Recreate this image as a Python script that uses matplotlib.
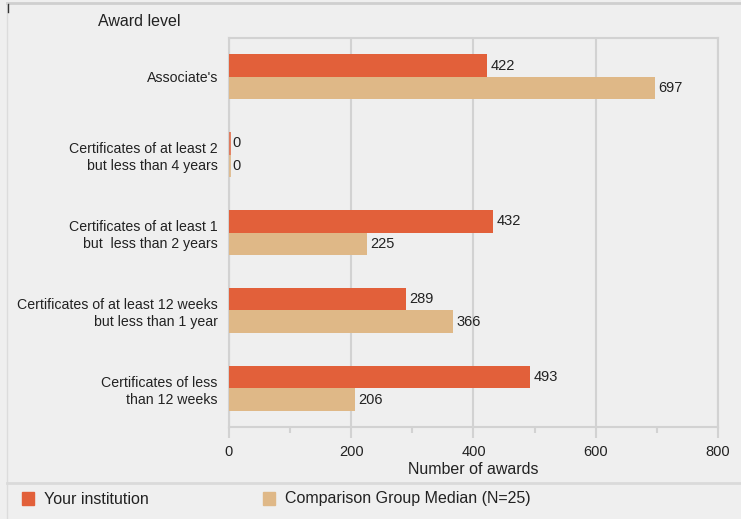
import matplotlib
matplotlib.use("Agg")
import matplotlib.pyplot as plt
from matplotlib.patches import Rectangle
from matplotlib.lines import Line2D
from matplotlib.ticker import MultipleLocator

# award levels, top to bottom
levels = [
    "Associate's",
    "Certificates of at least 2\nbut less than 4 years",
    "Certificates of at least 1\nbut  less than 2 years",
    "Certificates of at least 12 weeks\nbut less than 1 year",
    "Certificates of less\nthan 12 weeks",
]
institution = [422, 0, 432, 289, 493]
comparison = [697, 0, 225, 366, 206]

series_names = ["Your institution", "Comparison Group Median (N=25)"]
x_ticks = [0, 200, 400, 600, 800]

ORANGE = "#e2603a"
TAN = "#dfb887"
BG = "#efefef"
GRID = "#d2d2d2"
TEXT = "#222222"

plt.rcParams["font.family"] = ["Liberation Sans", "DejaVu Sans"]

fig = plt.figure(figsize=(7.41, 5.19), dpi=100, facecolor=BG)
ax = fig.add_axes([0.309, 0.177, 0.66, 0.75])
ax.set_facecolor(BG)

bar_h = 0.29
ypos = list(range(len(levels)))
y_inst = [y - bar_h / 2 for y in ypos]
y_comp = [y + bar_h / 2 for y in ypos]

ax.barh(y_inst, institution, height=bar_h, color=ORANGE, zorder=3)
ax.barh(y_comp, comparison, height=bar_h, color=TAN, zorder=3)

# zero-valued bars still show a thin stroke
for y, v in zip(y_inst, institution):
    if v == 0:
        ax.barh(y, 3.5, height=bar_h, color=ORANGE, alpha=0.75, zorder=3)
for y, v in zip(y_comp, comparison):
    if v == 0:
        ax.barh(y, 3.5, height=bar_h, color=TAN, alpha=0.85, zorder=3)

for y, v in zip(y_inst, institution):
    ax.text(v + 6, y, str(v), va="center", ha="left", fontsize=10.5, color=TEXT)
for y, v in zip(y_comp, comparison):
    ax.text(v + 6, y, str(v), va="center", ha="left", fontsize=10.5, color=TEXT)

ax.set_xlim(0, 800)
ax.set_ylim(len(levels) - 0.5, -0.5)
ax.set_xticks(x_ticks)
ax.xaxis.set_minor_locator(MultipleLocator(100))
ax.set_yticks(ypos)
ax.set_yticklabels(levels, fontsize=10.2, color=TEXT, linespacing=1.3)
ax.tick_params(axis="y", length=0, pad=8)
ax.tick_params(axis="x", which="major", length=8, width=1.5, color=GRID,
               labelsize=10.5, labelcolor=TEXT, pad=5)
ax.tick_params(axis="x", which="minor", length=4, width=1.5, color=GRID)

ax.grid(axis="x", color=GRID, linewidth=1.5, zorder=0)
for side in ["left", "right", "top", "bottom"]:
    ax.spines[side].set_color(GRID)
    ax.spines[side].set_linewidth(1.5)

ax.set_xlabel("Number of awards", fontsize=11.5, color=TEXT, labelpad=2)

fig.text(98 / 741, 1 - 22 / 519, "Award level", fontsize=11.5, color=TEXT,
         ha="left", va="center")

# outer frame and legend separator
fig.add_artist(Line2D([7 / 741, 1], [1 - 3 / 519] * 2, color="#cfcfcf", lw=2))
fig.add_artist(Line2D([7 / 741] * 2, [0, 1 - 3 / 519], color="#dcdcdc", lw=1))
fig.add_artist(Line2D([8 / 741] * 2, [1 - 4 / 519, 1 - 12 / 519], color="#333333", lw=1))
fig.add_artist(Line2D([7 / 741, 1], [1 - 483 / 519] * 2, color="#dadada", lw=2))

# legend row
legend_x = [22, 263]
for x0, name, c in zip(legend_x, series_names, [ORANGE, TAN]):
    fig.add_artist(Rectangle((x0 / 741, 1 - 505 / 519), 12 / 741, 13 / 519,
                             color=c, transform=fig.transFigure))
    fig.text((x0 + 22) / 741, 1 - 499 / 519, name, fontsize=11.5, color=TEXT,
             ha="left", va="center")

fig.savefig("out.png", dpi=100, facecolor=BG)
